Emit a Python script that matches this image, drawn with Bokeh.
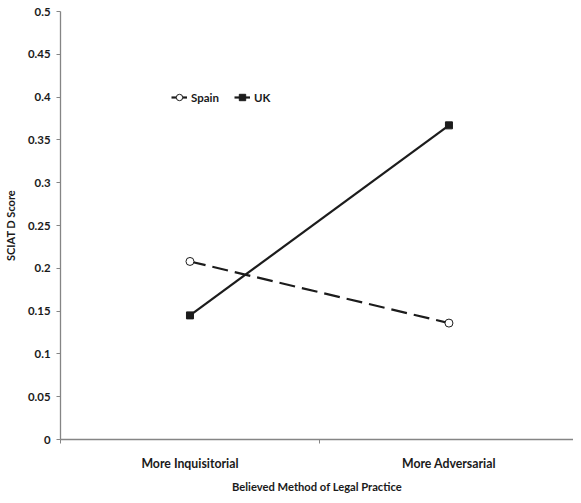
from bokeh.plotting import figure
from bokeh.models import FixedTicker, Range1d, Legend, LegendItem
from bokeh.embed import file_html
from bokeh.resources import INLINE

categories = ["More Inquisitorial", "More Adversarial"]
cat_pos = [1, 2]
cat_bounds = [0.5, 1.5, 2.5]
spain = [0.208, 0.136]
uk = [0.145, 0.367]
y_ticks = [0, 0.05, 0.1, 0.15, 0.2, 0.25, 0.3, 0.35, 0.4, 0.45, 0.5]
y_tick_labels = ["0", "0.05", "0.1", "0.15", "0.2", "0.25", "0.3", "0.35", "0.4", "0.45", "0.5"]

FONT = "Lato"
AX = "#858585"
INK = "#1c1c1c"
TXT = "#1a1a1a"

p = figure(width=573, height=495, output_backend="svg", toolbar_location=None,
           x_range=Range1d(0.5, 2.481), y_range=Range1d(0, 0.5),
           min_border_left=56, min_border_top=11, min_border_bottom=46, min_border_right=0)
p.outline_line_color = None
p.grid.visible = False
p.background_fill_color = "white"

# x axis
xa = p.xaxis[0]
xa.ticker = FixedTicker(ticks=cat_pos, minor_ticks=cat_bounds)
xa.major_label_overrides = {cp: c for cp, c in zip(cat_pos, categories)}
xa.major_tick_line_color = None
xa.major_tick_out = 0
xa.major_tick_in = 0
xa.minor_tick_out = 4
xa.minor_tick_in = 0
xa.minor_tick_line_color = AX
xa.axis_line_color = AX
xa.axis_line_width = 1.3
xa.major_label_standoff = 12
xa.major_label_text_font = FONT
xa.major_label_text_font_style = "bold"
xa.major_label_text_font_size = "12.3px"
xa.major_label_text_color = TXT
xa.axis_label = "Believed Method of Legal Practice"
xa.axis_label_text_font = FONT
xa.axis_label_text_font_style = "bold"
xa.axis_label_text_font_size = "11.2px"
xa.axis_label_text_color = TXT
xa.axis_label_standoff = 6

# y axis
ya = p.yaxis[0]
ya.ticker = FixedTicker(ticks=y_ticks)
ya.major_label_overrides = {t: l for t, l in zip(y_ticks, y_tick_labels)}
ya.major_tick_out = 4
ya.major_tick_in = 0
ya.minor_tick_line_color = None
ya.major_tick_line_color = AX
ya.axis_line_color = AX
ya.axis_line_width = 1.3
ya.major_label_standoff = 6
ya.major_label_text_font = FONT
ya.major_label_text_font_style = "bold"
ya.major_label_text_font_size = "11.4px"
ya.major_label_text_color = TXT
ya.axis_label = "SCIAT D Score"
ya.axis_label_text_font = FONT
ya.axis_label_text_font_style = "bold"
ya.axis_label_text_font_size = "11px"
ya.axis_label_text_color = TXT
ya.axis_label_standoff = 8

# series
l_sp = p.line(cat_pos, spain, line_color=INK, line_width=2.2, line_dash="16 7")
m_sp = p.scatter(cat_pos, spain, marker="circle", size=8, fill_color="white",
                 line_color=INK, line_width=1)
l_uk = p.line(cat_pos, uk, line_color=INK, line_width=2.2)
m_uk = p.scatter(cat_pos, uk, marker="square", size=7, fill_color=INK, line_color=INK)

legend = Legend(items=[LegendItem(label="Spain", renderers=[l_sp, m_sp]),
                       LegendItem(label="UK", renderers=[l_uk, m_uk])],
                orientation="horizontal", location=(111, 332),
                padding=0, margin=0, spacing=15, glyph_width=16, glyph_height=20,
                label_standoff=4, border_line_color=None, background_fill_alpha=0,
                label_text_font=FONT, label_text_font_style="bold",
                label_text_font_size="11.5px", label_text_color=TXT)
p.add_layout(legend)

open("out.html", "w").write(file_html(p, INLINE))
